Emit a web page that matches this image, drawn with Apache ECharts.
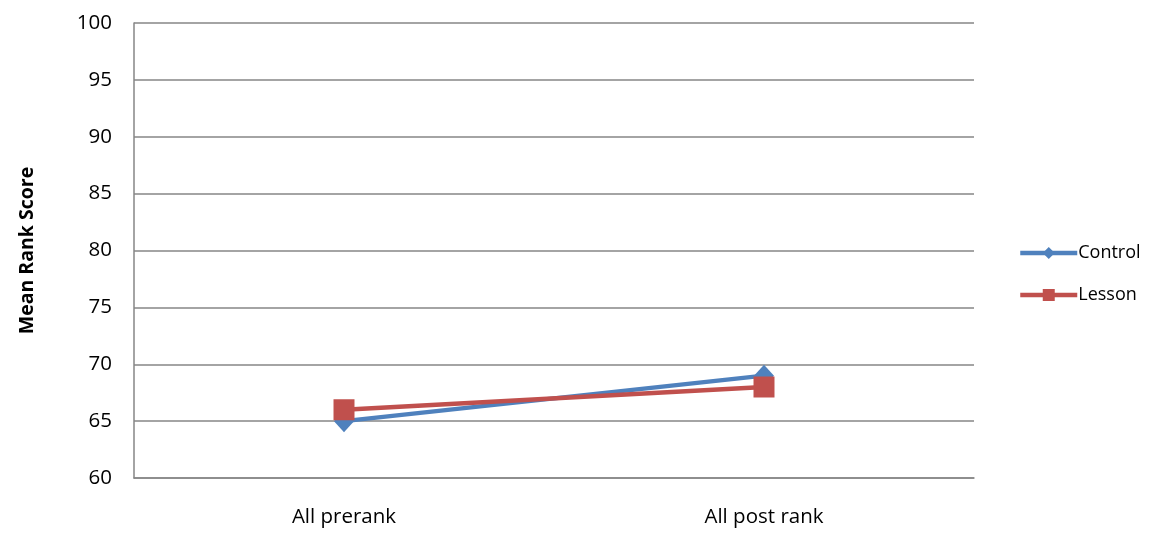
<!DOCTYPE html>
<html>
<head>
<meta charset="utf-8">
<script src="https://cdn.jsdelivr.net/npm/echarts@6/dist/echarts.min.js"></script>
<style>
  html, body { margin: 0; padding: 0; background: #fff; }
  #chart { width: 1152px; height: 533px; }
</style>
</head>
<body>
<div id="chart"></div>
<script>
const categories = ['All prerank', 'All post rank'];
const controlScores = [65, 69];
const lessonScores = [66, 68];
const yTitle = 'Mean Rank Score';

const font = '"Open Sans", "Liberation Sans", sans-serif';
const chart = echarts.init(document.getElementById('chart'));

chart.setOption({
  animation: false,
  grid: { left: 134, right: 178, top: 23, bottom: 55, containLabel: false },
  legend: {
    orient: 'vertical',
    left: 1013,
    top: 239,
    itemGap: 24,
    itemWidth: 57,
    itemHeight: 15,
    lineStyle: { width: 4.5 },
    textStyle: { fontFamily: font, fontSize: 18, color: '#000', padding: [0, 0, 0, -4] },
    data: ['Control', 'Lesson']
  },
  xAxis: {
    type: 'category',
    data: categories,
    boundaryGap: true,
    axisLine: { lineStyle: { color: '#868686', width: 1.5 } },
    axisTick: { show: false },
    axisLabel: { fontFamily: font, fontSize: 20.5, color: '#000', margin: 29 }
  },
  yAxis: {
    type: 'value',
    min: 60,
    max: 100,
    interval: 5,
    name: yTitle,
    nameLocation: 'middle',
    nameGap: 97,
    nameTextStyle: { fontFamily: font, fontSize: 19.5, fontWeight: 'bold', color: '#000' },
    axisLine: { show: true, lineStyle: { color: '#868686', width: 1.5 } },
    axisTick: { show: false },
    axisLabel: { fontFamily: font, fontSize: 20.5, color: '#000', margin: 22 },
    splitLine: { lineStyle: { color: '#868686', width: 1.5 } }
  },
  series: [
    {
      name: 'Control',
      type: 'line',
      data: controlScores,
      symbol: 'diamond',
      symbolSize: [20, 22],
      itemStyle: { color: '#4F81BD' },
      lineStyle: { color: '#4F81BD', width: 4.5 },
      z: 2
    },
    {
      name: 'Lesson',
      type: 'line',
      data: lessonScores,
      symbol: 'rect',
      symbolSize: 21,
      itemStyle: { color: '#C0504D' },
      lineStyle: { color: '#C0504D', width: 4.5 },
      z: 3
    }
  ]
});
</script>
</body>
</html>
